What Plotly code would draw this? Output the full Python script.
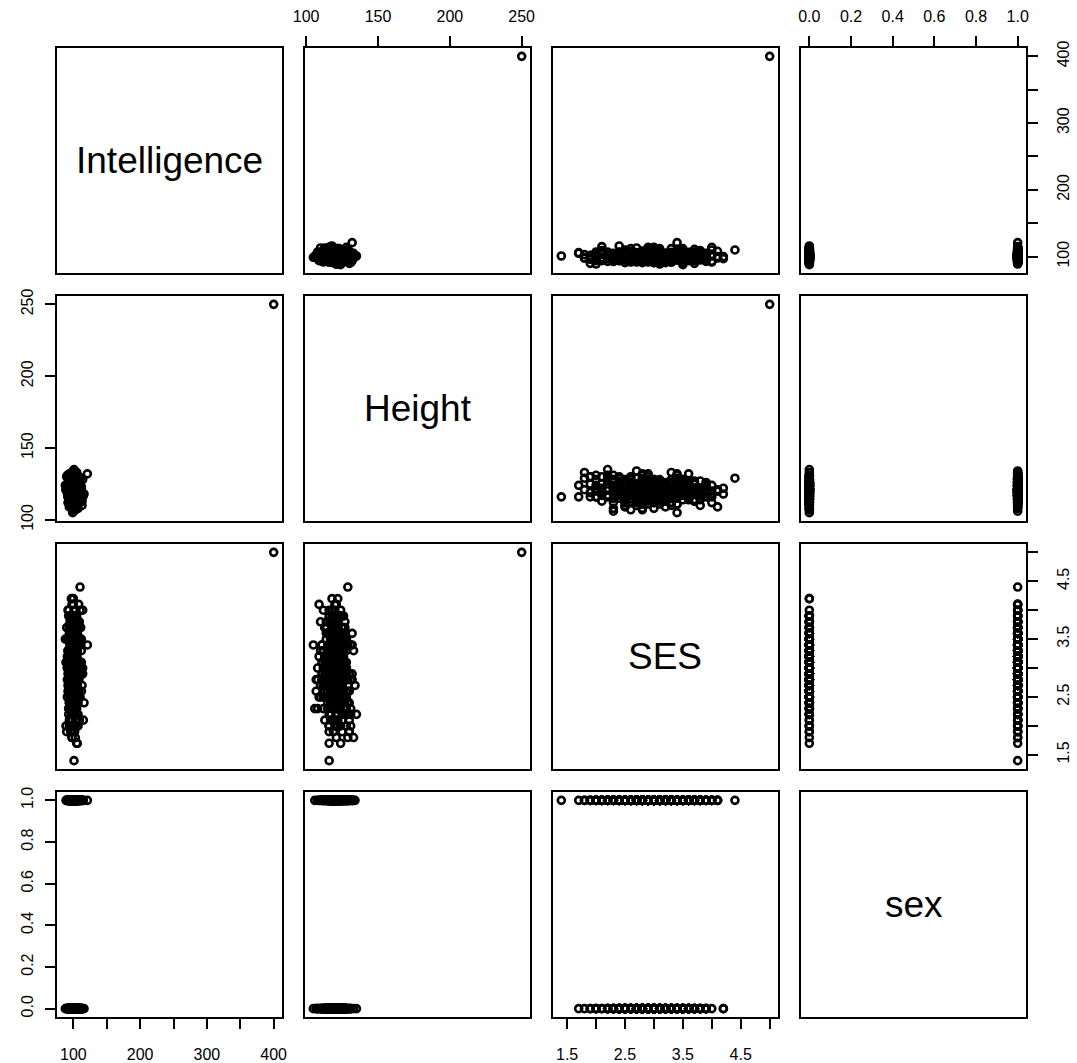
import plotly.graph_objects as go

# ---------------- data ----------------
intelligence = [
    98, 104, 95, 101, 107, 93, 100, 110, 97, 102, 99, 105, 91, 103, 96, 108, 100, 94, 106, 101,
    97, 112, 99, 102, 95, 104, 100, 89, 103, 98, 109, 101, 96, 105, 93, 100, 107, 99, 102, 94,
    101, 97, 114, 100, 103, 92, 106, 98, 104, 100, 95, 111, 99, 102, 97, 105, 90, 101, 108, 96,
    103, 99, 100, 94, 107, 102, 98, 113, 101, 96, 104, 100, 92, 106, 99, 103, 97, 110, 95, 101,
    100, 105, 98, 93, 102, 108, 96, 101, 104, 99, 115, 97, 103, 100, 91, 106, 98, 102, 94, 107,
    99, 101, 96, 109, 103, 100, 97, 105, 92, 102, 98, 104, 100, 111, 95, 101, 106, 99, 88, 103,
    97, 102, 100, 107, 94, 104, 99, 101, 96, 112, 103, 98, 105, 100, 93, 102, 108, 97, 101, 95,
    104, 100, 98, 106, 91, 103, 101, 97, 109, 99, 102, 95, 107, 100, 104, 96, 114, 101, 98, 103,
    100, 95, 105, 99, 102, 93, 108, 101, 97, 104, 100, 110, 96, 103, 98, 106, 92, 101, 99, 116,
    102, 97, 104, 100, 94, 107, 99, 103, 96, 101, 105, 98, 90, 102, 109, 100, 97, 104, 95, 101,
    99, 106, 101, 96, 103, 100, 112, 98, 94, 105, 101, 97, 104, 100, 108, 93, 102, 99, 106, 100,
    103, 98, 101, 95, 107, 100, 97, 104, 102, 89, 99, 105, 101, 96, 110, 103, 98, 100, 94, 106,
    101, 96, 103, 99, 105, 94, 100, 108, 98, 102, 97, 104, 92, 100, 106, 99, 103, 95, 101, 110,
    99, 103, 97, 101, 107, 93, 100, 104, 96, 102, 98, 113, 100, 95, 105, 101, 91, 103, 99, 106,
    102, 98, 100, 96, 104, 109, 99, 101, 94, 103, 100, 97, 106, 102, 90, 100, 105, 98, 111, 101,
    97, 104, 100, 102, 95, 107, 99, 103, 98, 101, 93, 105, 100, 96, 108, 102, 99, 104, 92, 100,
    103, 99, 106, 101, 97, 100, 104, 94, 102, 112, 98, 100, 103, 96, 101, 107, 99, 95, 104, 100,
    100, 105, 98, 102, 93, 101, 109, 97, 103, 99, 104, 91, 100, 106, 98, 102, 96, 101, 114, 99,
    98, 102, 100, 107, 96, 103, 99, 101, 94, 105, 100, 97, 110, 102, 99, 104, 93, 100, 106, 101,
    104, 97, 101, 99, 103, 100, 95, 108, 102, 98, 100, 105, 92, 101, 97, 103, 99, 111, 100, 96,
    100, 97, 102, 99, 104, 101, 95, 103, 98, 100, 106, 96, 101, 99, 103, 93, 100, 102, 97, 105,
    101, 99, 96, 103, 100, 108, 98, 102, 94, 101, 99, 104, 97, 100, 102, 95, 106, 100, 98, 103,
    99, 102, 100, 97, 105, 101, 93, 100, 103, 98, 101, 96, 104, 100, 99, 109, 102, 97, 100, 94,
    103, 100, 98, 101, 96, 104, 100, 102, 99, 107, 97, 101, 95, 103, 100, 98, 102, 91, 104, 100,
    98, 101, 104, 99, 100, 95, 102, 106, 97, 100, 103, 99, 101, 94, 105, 100, 98, 102, 96, 108,
    102, 96, 100, 103, 98, 101, 99, 105, 92, 100, 102, 97, 104, 101, 99, 100, 107, 95, 103, 98,
    100, 104, 97, 101, 99, 102, 94, 100, 103, 98, 106, 101, 96, 100, 102, 99, 104, 97, 101, 112,
    97, 100, 103, 96, 101, 99, 105, 100, 98, 102, 95, 104, 100, 101, 93, 103, 99, 100, 106, 98,
    101, 98, 100, 104, 97, 102, 100, 99, 107, 96, 101, 103, 98, 100, 95, 102, 100, 105, 99, 97,
    103, 99, 101, 97, 100, 105, 98, 102, 96, 101, 100, 104, 94, 99, 102, 100, 108, 97, 101, 100,
    121, 101, 110, 400,
]

height = [
    121, 117, 124, 119, 126, 115, 120, 128, 118, 122, 113, 125, 120, 116, 123, 130, 119, 121, 111, 124,
    118, 122, 127, 114, 120, 125, 117, 121, 132, 119, 123, 116, 120, 108, 124, 121, 118, 126, 115, 122,
    120, 129, 116, 123, 119, 112, 125, 121, 118, 127, 120, 114, 122, 117, 131, 119, 124, 110, 121, 126,
    117, 123, 120, 115, 128, 119, 122, 113, 125, 118, 121, 134, 116, 124, 120, 107, 123, 119, 127, 114,
    122, 118, 125, 121, 116, 130, 120, 112, 124, 119, 117, 126, 121, 115, 123, 128, 118, 120, 109, 125,
    119, 124, 114, 121, 127, 117, 122, 133, 118, 120, 125, 113, 123, 119, 116, 129, 121, 106, 124, 118,
    123, 116, 120, 126, 111, 122, 119, 128, 115, 121, 124, 118, 131, 120, 117, 125, 112, 122, 119, 127,
    115, 121, 125, 118, 122, 129, 114, 120, 123, 117, 126, 119, 108, 124, 121, 116, 128, 120, 113, 122,
    126, 119, 112, 124, 120, 117, 123, 135, 118, 121, 115, 125, 122, 110, 119, 127, 116, 124, 120, 118,
    120, 114, 127, 121, 118, 124, 105, 122, 119, 126, 116, 121, 130, 117, 123, 113, 120, 125, 118, 122,
    124, 117, 121, 111, 126, 120, 118, 123, 132, 116, 122, 119, 114, 125, 121, 128, 117, 120, 123, 109,
    118, 125, 120, 116, 122, 131, 119, 114, 124, 121, 127, 117, 120, 123, 112, 119, 126, 118, 121, 115,
    119, 123, 116, 121, 125, 118, 122, 114, 127, 120, 117, 124, 121, 129, 115, 122, 119, 126, 112, 120,
    122, 117, 125, 120, 113, 124, 119, 128, 121, 116, 123, 110, 120, 126, 118, 121, 131, 117, 124, 119,
    118, 124, 121, 115, 127, 120, 123, 117, 125, 119, 112, 122, 128, 116, 121, 124, 118, 133, 120, 114,
    125, 119, 122, 129, 117, 121, 114, 124, 120, 126, 118, 123, 108, 121, 119, 127, 116, 122, 125, 120,
    117, 122, 120, 124, 111, 126, 119, 121, 130, 118, 123, 116, 120, 125, 113, 122, 119, 127, 121, 115,
    123, 118, 126, 120, 115, 122, 128, 117, 121, 124, 110, 119, 125, 121, 116, 132, 120, 123, 118, 126,
    120, 127, 116, 122, 119, 125, 113, 121, 124, 118, 129, 120, 122, 115, 126, 119, 123, 107, 121, 124,
    116, 121, 125, 118, 123, 120, 127, 114, 122, 119, 124, 117, 121, 128, 120, 112, 125, 122, 118, 130,
    120, 123, 118, 121, 116, 124, 119, 122, 126, 117, 120, 125, 121, 114, 123, 119, 128, 120, 116, 122,
    121, 118, 124, 120, 127, 117, 122, 119, 115, 123, 120, 126, 118, 121, 113, 124, 120, 122, 129, 117,
    119, 122, 117, 125, 120, 121, 116, 123, 118, 128, 120, 114, 122, 119, 124, 120, 111, 121, 126, 118,
    122, 120, 125, 117, 121, 119, 124, 115, 120, 122, 127, 118, 121, 123, 116, 120, 125, 119, 122, 130,
    118, 121, 123, 120, 116, 125, 119, 122, 117, 124, 120, 128, 115, 121, 119, 123, 120, 112, 122, 126,
    124, 119, 121, 117, 123, 120, 126, 118, 122, 114, 121, 125, 119, 120, 127, 116, 122, 120, 124, 109,
    117, 122, 120, 124, 119, 121, 115, 123, 118, 126, 120, 122, 113, 121, 125, 119, 120, 128, 117, 123,
    121, 116, 124, 120, 122, 118, 127, 119, 123, 120, 115, 121, 125, 118, 122, 131, 120, 117, 124, 119,
    120, 125, 118, 122, 117, 121, 123, 114, 120, 126, 119, 122, 116, 124, 120, 121, 129, 118, 122, 111,
    123, 119, 121, 126, 118, 120, 122, 116, 124, 119, 121, 127, 117, 120, 123, 115, 121, 125, 119, 122,
    132, 116, 129, 250,
]

ses = [
    3.1, 2.6, 3.4, 2.9, 3.7, 2.3, 3.0, 3.5, 2.8, 3.2, 2.5, 3.9, 3.0, 2.7, 3.3, 2.1, 3.6, 2.9, 3.1, 2.4,
    2.8, 3.3, 2.2, 3.5, 3.0, 2.6, 3.8, 3.1, 2.9, 1.9, 3.4, 2.7, 3.2, 3.0, 4.0, 2.5, 3.1, 2.8, 3.6, 2.3,
    3.2, 2.7, 3.0, 3.9, 2.4, 3.3, 2.9, 1.8, 3.5, 3.1, 2.6, 3.7, 2.8, 3.0, 2.2, 3.4, 3.1, 2.5, 4.1, 2.9,
    2.6, 3.5, 3.1, 2.8, 2.0, 3.2, 3.6, 2.9, 3.0, 2.4, 3.8, 2.7, 3.3, 1.7, 3.1, 2.8, 3.4, 2.5, 3.0, 3.7,
    3.0, 2.3, 3.6, 2.9, 3.3, 2.6, 3.1, 4.0, 2.7, 3.2, 2.1, 3.5, 2.9, 3.4, 2.5, 3.0, 3.8, 2.8, 3.2, 2.2,
    3.4, 2.8, 3.1, 2.5, 3.7, 3.0, 2.4, 3.3, 2.9, 3.6, 1.9, 3.2, 2.7, 3.0, 3.9, 2.6, 3.1, 2.3, 3.5, 2.9,
    2.7, 3.3, 2.0, 3.1, 2.8, 3.5, 3.0, 2.6, 3.8, 2.9, 3.2, 2.4, 3.4, 3.0, 2.2, 3.6, 2.8, 4.2, 3.1, 2.5,
    3.0, 2.6, 3.4, 2.9, 3.2, 1.8, 3.7, 2.7, 3.1, 3.5, 2.4, 3.0, 2.8, 3.9, 2.3, 3.3, 2.9, 3.6, 2.1, 3.2,
    2.9, 3.5, 2.5, 3.1, 3.8, 2.7, 3.0, 2.2, 3.4, 2.8, 3.6, 3.1, 2.0, 3.3, 2.6, 3.0, 4.0, 2.9, 3.2, 2.4,
    3.3, 2.8, 3.0, 2.5, 3.7, 2.9, 3.4, 2.1, 3.1, 3.6, 2.7, 3.2, 1.9, 3.0, 3.5, 2.6, 3.8, 2.8, 3.3, 2.3,
    3.1, 2.4, 3.5, 2.9, 3.0, 3.9, 2.6, 3.2, 2.8, 1.7, 3.4, 3.0, 2.5, 3.7, 2.9, 3.1, 2.2, 3.6, 2.7, 4.1,
    2.8, 3.2, 2.6, 3.4, 3.0, 2.3, 3.8, 2.9, 3.1, 2.0, 3.5, 2.7, 3.3, 2.5, 3.0, 3.6, 2.8, 4.2, 2.4, 3.1,
    3.0, 2.7, 3.3, 2.9, 3.5, 2.4, 3.1, 3.8, 2.8, 3.2, 2.6, 3.4, 3.0, 2.2, 3.6, 2.9, 3.1, 2.5, 3.3, 4.0,
    2.9, 3.2, 2.6, 3.0, 3.7, 2.3, 3.4, 2.8, 3.1, 1.9, 3.5, 2.7, 3.0, 3.3, 2.5, 3.9, 2.8, 3.1, 2.4, 3.6,
    3.1, 2.8, 3.4, 2.6, 3.0, 3.8, 2.9, 3.2, 2.1, 3.5, 2.7, 3.0, 3.3, 2.5, 3.7, 2.9, 3.1, 1.8, 3.4, 2.8,
    2.7, 3.3, 3.0, 2.4, 3.6, 2.9, 3.2, 2.6, 4.1, 3.0, 2.8, 3.5, 2.3, 3.1, 2.9, 3.4, 2.0, 3.2, 2.7, 3.8,
    3.2, 2.5, 3.0, 3.6, 2.8, 3.3, 2.1, 3.1, 2.9, 3.5, 2.6, 3.0, 3.9, 2.7, 3.2, 2.4, 3.4, 2.9, 3.7, 3.0,
    2.8, 3.4, 2.6, 3.1, 3.0, 2.3, 3.5, 2.9, 3.2, 2.7, 3.8, 3.0, 2.5, 3.3, 2.2, 3.6, 2.9, 3.1, 4.0, 2.6,
    3.3, 2.9, 3.1, 2.5, 3.7, 3.0, 2.7, 3.4, 2.0, 3.2, 2.8, 3.6, 3.0, 2.4, 3.5, 2.9, 3.9, 2.6, 3.1, 3.0,
    2.9, 3.5, 2.7, 3.2, 2.4, 3.0, 3.8, 2.8, 3.3, 2.1, 3.1, 3.6, 2.6, 3.0, 3.4, 2.3, 3.2, 2.9, 3.7, 1.9,
    3.0, 2.8, 3.2, 2.9, 3.4, 2.6, 3.1, 2.7, 3.5, 3.0, 2.4, 3.3, 2.9, 3.6, 2.8, 3.1, 2.5, 3.2, 3.0, 3.8,
    2.9, 3.1, 2.7, 3.3, 3.0, 2.5, 3.4, 2.8, 3.6, 3.1, 2.3, 3.2, 2.9, 3.0, 3.7, 2.6, 3.1, 2.8, 3.4, 2.2,
    3.2, 2.6, 3.0, 3.5, 2.8, 3.1, 2.9, 3.3, 2.4, 3.0, 3.7, 2.7, 3.2, 2.9, 3.0, 2.1, 3.4, 2.8, 3.1, 3.9,
    2.8, 3.3, 2.9, 3.0, 2.6, 3.4, 3.1, 2.5, 3.2, 2.9, 3.6, 3.0, 2.7, 3.3, 2.0, 3.1, 2.8, 3.5, 3.0, 2.4,
    3.1, 2.9, 3.4, 2.7, 3.0, 3.2, 2.5, 3.6, 2.8, 3.1, 3.0, 2.3, 3.3, 2.9, 3.8, 2.6, 3.2, 3.0, 2.7, 3.4,
    2.7, 3.0, 3.3, 2.8, 3.5, 2.9, 3.1, 2.4, 3.2, 3.0, 2.6, 3.7, 2.9, 3.1, 2.2, 3.4, 2.8, 3.0, 3.6, 2.5,
    3.3, 2.8, 3.0, 3.1, 2.6, 3.4, 2.9, 3.2, 2.7, 3.9, 3.0, 2.5, 3.1, 2.8, 3.5, 2.9, 3.0, 2.3, 3.3, 3.1,
    2.9, 3.2, 2.6, 3.0, 3.4, 2.8, 3.1, 3.7, 2.4, 3.0, 3.2, 2.7, 3.5, 2.9, 3.1, 2.0, 3.3, 2.8, 3.0, 3.6,
    3.0, 2.7, 3.1, 3.4, 2.9, 3.2, 2.5, 3.0, 3.8, 2.8, 3.3, 2.6, 3.1, 2.9, 3.5, 3.0, 2.2, 3.2, 2.8, 3.4,
    3.1, 3.3, 2.8, 3.0, 2.6, 3.5, 2.9, 3.2, 2.7, 3.0, 3.6, 2.4, 3.1, 2.9, 3.3, 2.8, 3.0, 3.7, 2.5, 3.2,
    3.4, 1.4, 4.4, 5.0,
]

sex = [
    0, 1, 1, 0, 1, 0, 0, 1, 0, 1, 1, 0, 1, 0, 0, 1, 1, 0, 1, 0,
    1, 0, 0, 1, 1, 0, 1, 0, 1, 1, 0, 0, 1, 0, 1, 1, 0, 1, 0, 0,
    0, 1, 0, 1, 1, 0, 0, 1, 1, 0, 1, 0, 0, 1, 0, 1, 1, 0, 1, 0,
    1, 0, 1, 0, 0, 1, 1, 0, 1, 0, 0, 1, 1, 0, 1, 0, 1, 1, 0, 1,
    0, 0, 1, 1, 0, 1, 0, 1, 1, 0, 1, 0, 1, 0, 0, 1, 0, 1, 1, 0,
    1, 1, 0, 0, 1, 0, 1, 1, 0, 1, 0, 0, 1, 1, 0, 1, 0, 1, 0, 1,
    0, 1, 1, 0, 1, 0, 0, 1, 1, 0, 1, 1, 0, 0, 1, 0, 1, 0, 1, 0,
    1, 0, 0, 1, 0, 1, 1, 0, 1, 0, 0, 1, 0, 1, 1, 0, 1, 0, 0, 1,
    0, 1, 0, 1, 1, 0, 1, 0, 0, 1, 1, 0, 1, 0, 1, 0, 0, 1, 1, 0,
    1, 0, 1, 0, 0, 1, 0, 1, 1, 0, 1, 0, 0, 1, 0, 1, 1, 0, 1, 1,
    0, 1, 0, 1, 0, 1, 1, 0, 1, 1, 1, 0, 1, 1, 0, 0, 1, 0, 1, 1,
    1, 0, 1, 0, 1, 0, 0, 1, 0, 1, 0, 1, 1, 0, 0, 1, 0, 0, 1, 0,
    1, 0, 1, 1, 0, 0, 1, 0, 1, 0, 1, 1, 0, 1, 0, 0, 1, 0, 1, 1,
    0, 1, 0, 0, 1, 1, 0, 1, 0, 1, 1, 0, 0, 1, 1, 0, 1, 0, 1, 0,
    1, 0, 1, 0, 1, 0, 0, 1, 1, 0, 1, 1, 0, 0, 1, 0, 1, 0, 0, 1,
    0, 1, 1, 0, 1, 0, 1, 0, 1, 1, 0, 0, 1, 0, 1, 1, 0, 1, 0, 1,
    1, 0, 0, 1, 0, 1, 1, 0, 1, 0, 0, 1, 1, 0, 1, 0, 1, 1, 0, 0,
    0, 1, 0, 1, 1, 0, 1, 0, 0, 1, 1, 0, 1, 0, 1, 1, 0, 0, 1, 0,
    1, 0, 1, 0, 0, 1, 0, 1, 1, 0, 1, 0, 0, 1, 1, 0, 1, 0, 1, 0,
    0, 1, 1, 0, 1, 0, 1, 0, 0, 1, 0, 1, 1, 0, 1, 0, 0, 1, 0, 1,
    1, 0, 0, 1, 1, 0, 1, 0, 1, 0, 0, 1, 1, 0, 1, 1, 0, 0, 1, 0,
    0, 1, 1, 0, 0, 1, 0, 1, 1, 0, 1, 0, 0, 1, 0, 1, 1, 0, 0, 1,
    1, 0, 1, 1, 0, 0, 1, 0, 0, 1, 1, 0, 1, 0, 1, 0, 0, 1, 1, 0,
    0, 1, 0, 0, 1, 1, 0, 1, 0, 1, 0, 1, 1, 0, 0, 1, 0, 1, 1, 0,
    1, 1, 0, 1, 0, 0, 1, 0, 1, 1, 0, 1, 0, 0, 1, 0, 1, 0, 1, 1,
    0, 0, 1, 0, 1, 1, 0, 1, 0, 0, 1, 0, 1, 1, 0, 1, 0, 1, 0, 0,
    1, 0, 1, 1, 0, 1, 0, 0, 1, 0, 1, 1, 0, 1, 0, 0, 1, 0, 1, 1,
    0, 1, 0, 1, 0, 0, 1, 1, 0, 1, 0, 0, 1, 0, 1, 1, 0, 1, 0, 1,
    1, 0, 1, 0, 1, 1, 0, 0, 1, 0, 1, 0, 0, 1, 0, 1, 1, 0, 1, 0,
    0, 1, 0, 0, 1, 0, 1, 1, 0, 1, 0, 1, 1, 0, 1, 0, 0, 1, 0, 1,
    1, 1, 1, None,
]

var_names = ["Intelligence", "Height", "SES", "sex"]
variables = [intelligence, height, ses, sex]

# tick marks / labels per variable (R draws every tick, labels only where they fit)
tick_vals = [
    [100, 150, 200, 250, 300, 350, 400],
    [100, 150, 200, 250],
    [1.5, 2.0, 2.5, 3.0, 3.5, 4.0, 4.5, 5.0],
    [0.0, 0.2, 0.4, 0.6, 0.8, 1.0],
]
tick_text = [
    ["100", "", "200", "", "300", "", "400"],
    ["100", "150", "200", "250"],
    ["1.5", "", "2.5", "", "3.5", "", "4.5", ""],
    ["0.0", "0.2", "0.4", "0.6", "0.8", "1.0"],
]

# ---------------- layout geometry ----------------
W, H = 1077, 1063
PANEL = 225
LEFTS = [57, 305, 553, 801]
TOPS = [48, 296, 544, 792]
FONT = "Liberation Sans, Arial, sans-serif"


def rng(vals):
    v = [a for a in vals if a is not None]
    lo, hi = min(v), max(v)
    d = (hi - lo) * 0.04
    return [lo - d, hi + d]


ranges = [rng(v) for v in variables]

fig = go.Figure()
layout = dict(
    width=W, height=H, autosize=False,
    margin=dict(l=0, r=0, t=0, b=0, pad=0),
    paper_bgcolor="white", plot_bgcolor="white",
    showlegend=False,
    font=dict(family=FONT, color="black"),
)
annotations = []

n = len(variables)
for i in range(n):          # row -> y variable
    for j in range(n):      # column -> x variable
        k = i * n + j + 1
        xs = "" if k == 1 else str(k)
        xkey, ykey = "xaxis" + xs, "yaxis" + xs
        xref, yref = "x" + xs, "y" + xs

        # which outer axes carry ticks (R pairs alternating style)
        x_ticks = (i == n - 1 and j % 2 == 0) or (i == 0 and j % 2 == 1)
        x_side = "bottom" if i == n - 1 else "top"
        y_ticks = (j == 0 and i % 2 == 1) or (j == n - 1 and i % 2 == 0)
        y_side = "left" if j == 0 else "right"

        common = dict(
            showline=True, mirror=True, linecolor="black", linewidth=1.6,
            showgrid=False, zeroline=False, automargin=False,
            tickfont=dict(family=FONT, size=16, color="black"),
            ticklen=10, tickwidth=1.5, tickcolor="black",
        )
        xa = dict(common)
        xa.update(
            domain=[LEFTS[j] / W, (LEFTS[j] + PANEL) / W],
            anchor=yref, range=ranges[j],
            tickmode="array", tickvals=tick_vals[j], ticktext=tick_text[j],
            ticks="outside" if x_ticks else "",
            showticklabels=x_ticks, side=x_side,
            ticklabelstandoff=12 if x_side == "bottom" else 8,
        )
        ya = dict(common)
        ya.update(
            domain=[1 - (TOPS[i] + PANEL) / H, 1 - TOPS[i] / H],
            anchor=xref, range=ranges[i],
            tickmode="array", tickvals=tick_vals[i], ticktext=tick_text[i],
            ticks="outside" if y_ticks else "",
            showticklabels=y_ticks, side=y_side, tickangle=-90,
            ticklabelstandoff=12 if y_side == "right" else 6,
        )
        layout[xkey] = xa
        layout[ykey] = ya

        if i == j:
            fig.add_trace(go.Scatter(x=[], y=[], xaxis=xref, yaxis=yref,
                                     mode="markers", hoverinfo="skip"))
            annotations.append(dict(
                text=var_names[i], xref=xref + " domain", yref=yref + " domain",
                x=0.5, y=0.5, showarrow=False, xanchor="center", yanchor="middle",
                font=dict(family=FONT, size=37, color="black"),
            ))
        else:
            fig.add_trace(go.Scatter(
                x=variables[j], y=variables[i], xaxis=xref, yaxis=yref,
                mode="markers",
                marker=dict(symbol="circle-open", size=7, color="black",
                            line=dict(width=2.6, color="black")),
                hoverinfo="skip",
            ))

layout["annotations"] = annotations
fig.update_layout(**layout)
fig.write_html("out.html")
